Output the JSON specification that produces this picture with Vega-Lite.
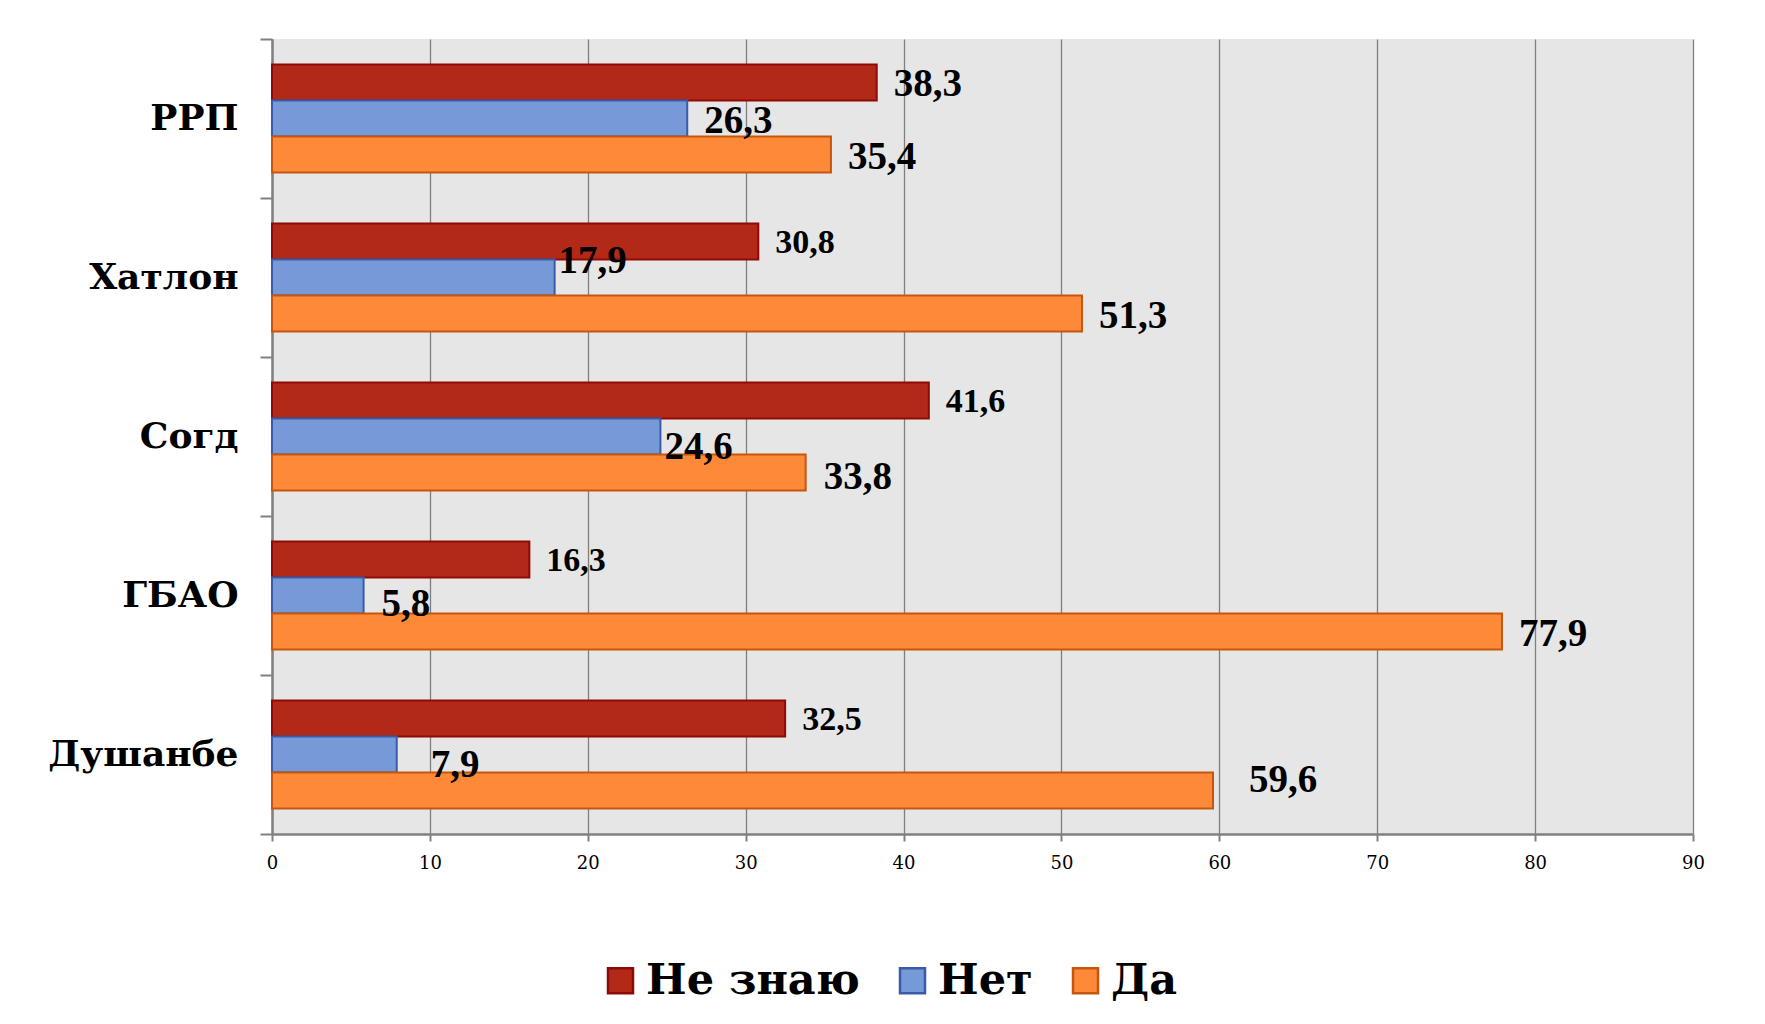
{
  "$schema": "https://vega.github.io/schema/vega-lite/v6.json",
  "width": 1421,
  "height": 795,
  "autosize": {"type": "none"},
  "padding": {"left": 272, "top": 39, "right": 72, "bottom": 190},
  "background": "white",
  "data": {
    "values": [
      {"region": "РРП", "series": "Не знаю", "value": 38.3},
      {"region": "РРП", "series": "Нет", "value": 26.3},
      {"region": "РРП", "series": "Да", "value": 35.4},
      {"region": "Хатлон", "series": "Не знаю", "value": 30.8},
      {"region": "Хатлон", "series": "Нет", "value": 17.9},
      {"region": "Хатлон", "series": "Да", "value": 51.3},
      {"region": "Согд", "series": "Не знаю", "value": 41.6},
      {"region": "Согд", "series": "Нет", "value": 24.6},
      {"region": "Согд", "series": "Да", "value": 33.8},
      {"region": "ГБАО", "series": "Не знаю", "value": 16.3},
      {"region": "ГБАО", "series": "Нет", "value": 5.8},
      {"region": "ГБАО", "series": "Да", "value": 77.9},
      {"region": "Душанбе", "series": "Не знаю", "value": 32.5},
      {"region": "Душанбе", "series": "Нет", "value": 7.9},
      {"region": "Душанбе", "series": "Да", "value": 59.6}
    ]
  },
  "encoding": {
    "y": {
      "field": "region", "type": "nominal",
      "sort": ["РРП", "Хатлон", "Согд", "ГБАО", "Душанбе"],
      "scale": {"paddingInner": 0, "paddingOuter": 0},
      "title": null,
      "axis": {
        "tickBand": "extent", "ticks": true, "tickSize": 12, "tickColor": "#808080", "tickWidth": 2,
        "domainColor": "#808080", "domainWidth": 2.5, "grid": false,
        "labelFont": "DejaVu Serif", "labelFontWeight": "bold", "labelFontSize": 36,
        "labelColor": "#000000", "labelPadding": 22, "labelLimit": 400
      }
    },
    "yOffset": {
      "field": "series", "type": "nominal",
      "sort": ["Не знаю", "Нет", "Да"],
      "scale": {"paddingInner": 0, "paddingOuter": 0.7083}
    },
    "x": {
      "field": "value", "type": "quantitative",
      "scale": {"domain": [0, 90], "nice": false},
      "title": null,
      "axis": {
        "values": [0, 10, 20, 30, 40, 50, 60, 70, 80, 90],
        "grid": true, "gridColor": "#808080", "gridWidth": 1.3,
        "tickSize": 7, "tickColor": "#808080", "tickWidth": 2,
        "domainColor": "#808080", "domainWidth": 2.5,
        "labelFont": "DejaVu Serif", "labelFontSize": 18, "labelColor": "#000000",
        "labelPadding": 13, "labelFlush": false
      }
    }
  },
  "layer": [
    {
      "mark": {"type": "bar", "strokeWidth": 2},
      "encoding": {
        "fill": {
          "field": "series", "type": "nominal",
          "scale": {"domain": ["Не знаю", "Нет", "Да"], "range": ["#b22a17", "#7699d8", "#fe8938"]},
          "legend": {
            "title": null, "orient": "none", "legendX": 327, "legendY": 920, "direction": "horizontal",
            "symbolType": "square", "symbolSize": 625, "symbolStrokeWidth": 2.5,
            "labelFont": "DejaVu Serif", "labelFontWeight": "bold", "labelFontSize": 43,
            "labelColor": "#000000", "labelOffset": 4, "columnPadding": 31, "padding": 0, "labelLimit": 400
          }
        },
        "stroke": {
          "field": "series", "type": "nominal",
          "scale": {"domain": ["Не знаю", "Нет", "Да"], "range": ["#8e0a06", "#3a5ca8", "#c5560d"]},
          "legend": {
            "title": null, "orient": "none", "legendX": 327, "legendY": 920, "direction": "horizontal",
            "symbolType": "square", "symbolSize": 625, "symbolStrokeWidth": 2.5,
            "labelFont": "DejaVu Serif", "labelFontWeight": "bold", "labelFontSize": 43,
            "labelColor": "#000000", "labelOffset": 4, "columnPadding": 31, "padding": 0, "labelLimit": 400
          }
        }
      }
    },
    {
      "transform": [{"filter": "indexof(['РРП|Не знаю','РРП|Нет','РРП|Да','Хатлон|Да','ГБАО|Да'], datum.region + '|' + datum.series) >= 0"}],
      "mark": {"type": "text", "align": "left", "baseline": "middle", "font": "Liberation Serif", "fontWeight": "bold", "fontSize": 39, "color": "#000000", "dx": 17, "dy": 2},
      "encoding": {"text": {"field": "value", "type": "quantitative", "format": ".1f"}}
    },
    {
      "transform": [{"filter": "datum.region === 'Согд' && datum.series === 'Да'"}],
      "mark": {"type": "text", "align": "left", "baseline": "middle", "font": "Liberation Serif", "fontWeight": "bold", "fontSize": 39, "color": "#000000", "dx": 18, "dy": 4},
      "encoding": {"text": {"field": "value", "type": "quantitative", "format": ".1f"}}
    },
    {
      "transform": [{"filter": "datum.series === 'Не знаю' && datum.region !== 'РРП'"}],
      "mark": {"type": "text", "align": "left", "baseline": "middle", "font": "Liberation Serif", "fontWeight": "bold", "fontSize": 34, "color": "#000000", "dx": 17, "dy": 2},
      "encoding": {"text": {"field": "value", "type": "quantitative", "format": ".1f"}}
    },
    {
      "transform": [{"filter": "datum.region === 'Хатлон' && datum.series === 'Нет'"}],
      "mark": {"type": "text", "align": "left", "baseline": "middle", "font": "Liberation Serif", "fontWeight": "bold", "fontSize": 39, "color": "#000000", "dx": 4, "dy": -17},
      "encoding": {"text": {"field": "value", "type": "quantitative", "format": ".1f"}}
    },
    {
      "transform": [{"filter": "datum.region === 'Согд' && datum.series === 'Нет'"}],
      "mark": {"type": "text", "align": "left", "baseline": "middle", "font": "Liberation Serif", "fontWeight": "bold", "fontSize": 39, "color": "#000000", "dx": 4, "dy": 10},
      "encoding": {"text": {"field": "value", "type": "quantitative", "format": ".1f"}}
    },
    {
      "transform": [{"filter": "datum.region === 'ГБАО' && datum.series === 'Нет'"}],
      "mark": {"type": "text", "align": "left", "baseline": "middle", "font": "Liberation Serif", "fontWeight": "bold", "fontSize": 39, "color": "#000000", "dx": 18, "dy": 8},
      "encoding": {"text": {"field": "value", "type": "quantitative", "format": ".1f"}}
    },
    {
      "transform": [{"filter": "datum.region === 'Душанбе' && datum.series === 'Нет'"}],
      "mark": {"type": "text", "align": "left", "baseline": "middle", "font": "Liberation Serif", "fontWeight": "bold", "fontSize": 39, "color": "#000000", "dx": 34, "dy": 10},
      "encoding": {"text": {"field": "value", "type": "quantitative", "format": ".1f"}}
    },
    {
      "transform": [{"filter": "datum.region === 'Душанбе' && datum.series === 'Да'"}],
      "mark": {"type": "text", "align": "left", "baseline": "middle", "font": "Liberation Serif", "fontWeight": "bold", "fontSize": 39, "color": "#000000", "dx": 36, "dy": -11},
      "encoding": {"text": {"field": "value", "type": "quantitative", "format": ".1f"}}
    }
  ],
  "config": {
    "locale": {"number": {"decimal": ",", "thousands": " ", "grouping": [3], "currency": ["", ""]}},
    "view": {"fill": "#e6e6e6", "stroke": null}
  }
}
